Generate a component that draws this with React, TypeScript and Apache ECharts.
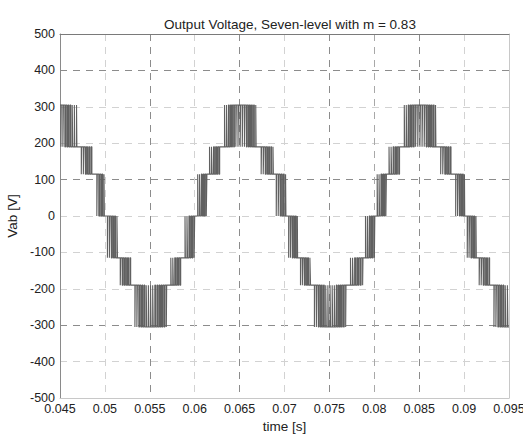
import React, { useEffect, useRef } from "react";
import * as echarts from "echarts";

// Voltage levels of the seven-level waveform (V)
const levels = [-305, -190, -115, 0, 115, 190, 305];

// Each PWM band: lower level index into `levels`, start/end time (s)
const bandLevel = [5, 4, 3, 2, 1, 0, 1, 2, 3, 4, 5, 4, 3, 2, 1, 0, 1, 2, 3, 4, 5, 4, 3, 2, 1, 0];
const bandStart = [
  0.045, 0.04715, 0.0489, 0.0501, 0.05155, 0.0532, 0.0572, 0.0588, 0.0602, 0.0615, 0.0632, 0.0672, 0.0689,
  0.0703, 0.0716, 0.0732, 0.0772, 0.0789, 0.0802, 0.0815, 0.0832, 0.0872, 0.0889, 0.0902, 0.0915, 0.0932,
];
const bandEnd = [
  0.047, 0.04865, 0.05, 0.0515, 0.053, 0.0571, 0.0587, 0.0601, 0.0614, 0.0629, 0.067, 0.0688, 0.0702,
  0.0715, 0.073, 0.077, 0.0788, 0.0801, 0.0814, 0.083, 0.087, 0.0887, 0.0901, 0.0914, 0.093, 0.095,
];
// Switching edges inside each band, in units of 10 µs from the band start
const bandEdges = [
  [10, 14, 32, 38, 54, 62, 76, 88, 98, 112, 120, 136, 142, 160, 164, 184, 188],
  [22, 26, 45, 52, 68, 79, 92, 106, 116, 131, 140],
  [20, 25, 42, 50, 64, 75, 86, 100, 104],
  [18, 22, 40, 47, 62, 72, 85, 98, 108, 124, 130],
  [16, 21, 38, 46, 60, 71, 84, 97, 108, 124, 132],
  [14, 18, 36, 42, 58, 66, 80, 92, 102, 116, 124, 140, 146, 164, 170, 188, 194, 212, 218, 236, 244, 260, 268, 282, 292, 304, 316, 326, 340, 348, 364, 368],
  [14, 18, 36, 42, 58, 66, 80, 92, 102, 116, 124],
  [12, 16, 34, 40, 56, 65, 78, 90, 100, 114, 120],
  [13, 17, 33, 40, 54, 63, 75, 87, 96, 109, 116],
  [15, 19, 37, 44, 60, 69, 83, 95, 106, 120, 128],
  [12, 16, 34, 40, 56, 64, 78, 90, 100, 114, 122, 138, 144, 162, 168, 186, 192, 210, 216, 234, 240, 256, 264, 278, 288, 300, 312, 322, 336, 344, 360, 364],
  [20, 24, 43, 50, 66, 76, 90, 103, 113, 128, 136, 152, 156],
  [18, 22, 40, 47, 62, 72, 85, 98, 107, 122, 126],
  [16, 20, 36, 43, 57, 66, 79, 91, 100, 113, 116],
  [18, 22, 39, 46, 61, 71, 84, 97, 107, 123, 130],
  [13, 17, 35, 41, 57, 65, 79, 91, 101, 115, 123, 139, 145, 163, 169, 187, 193, 211, 217, 235, 241, 257, 265, 279, 289, 301, 313, 323, 337, 345, 361, 365],
  [15, 19, 38, 44, 61, 70, 85, 97, 108, 123, 133, 150, 154],
  [12, 16, 33, 39, 54, 63, 76, 88, 97, 111, 116],
  [12, 16, 33, 39, 54, 63, 75, 87, 96, 109, 115],
  [14, 18, 37, 43, 60, 69, 84, 96, 107, 122, 131],
  [14, 18, 36, 42, 58, 66, 80, 92, 102, 116, 124, 140, 146, 164, 170, 188, 194, 212, 218, 236, 242, 258, 266, 280, 290, 302, 314, 324, 338, 346, 362, 366],
  [19, 23, 42, 49, 65, 75, 88, 101, 111, 126, 134],
  [16, 20, 37, 44, 58, 67, 80, 92, 101, 114, 117],
  [15, 19, 35, 42, 56, 65, 78, 90, 98, 112, 116],
  [18, 22, 40, 47, 63, 73, 87, 100, 110, 126, 134],
  [12, 16, 34, 40, 56, 64, 78, 90, 100, 114, 122, 138, 144, 162, 168],
];

const xTicks = { min: 0.045, max: 0.095, interval: 0.005 };
const yTicks = { min: -500, max: 500, interval: 100 };

const LIGHT = "#d2d2d2";
const MID = "#a8a8a8";
const DARK = "#8c8c8c";
const xGridColors = ["rgba(0,0,0,0)", LIGHT, DARK, LIGHT, DARK, LIGHT, DARK, MID, DARK, LIGHT, "rgba(0,0,0,0)"];
const yGridColors = ["rgba(0,0,0,0)", LIGHT, DARK, LIGHT, LIGHT, LIGHT, DARK, LIGHT, LIGHT, DARK, "rgba(0,0,0,0)"];

function buildWaveform(): [number, number][] {
  const pts: [number, number][] = [];
  let level = levels[bandLevel[0] + 1];
  for (let b = 0; b < bandLevel.length; b++) {
    const lo = levels[bandLevel[b]];
    const hi = levels[bandLevel[b] + 1];
    const t0 = bandStart[b];
    pts.push([t0, level]);
    if (level !== lo && level !== hi) {
      level = Math.abs(level - lo) < Math.abs(level - hi) ? lo : hi;
      pts.push([t0, level]);
    }
    for (const e of bandEdges[b]) {
      const t = t0 + e * 1e-5;
      pts.push([t, level]);
      level = level === hi ? lo : hi;
      pts.push([t, level]);
    }
    pts.push([bandEnd[b], level]);
  }
  return pts;
}

const FONT = "'Liberation Sans', Arial, Helvetica, sans-serif";

export default function App() {
  const ref = useRef<HTMLDivElement>(null);
  useEffect(() => {
    if (!ref.current) return;
    const chart = echarts.init(ref.current, undefined, { renderer: "svg" });
    chart.setOption({
      animation: false,
      backgroundColor: "#ffffff",
      textStyle: { fontFamily: FONT },
      title: {
        text: "Output Voltage, Seven-level with m = 0.83",
        left: 285,
        top: 12,
        textAlign: "center",
        textStyle: { fontFamily: FONT, fontSize: 13.5, fontWeight: "normal", color: "#222" },
      },
      grid: { left: 60, right: 14, top: 34, bottom: 37, containLabel: false, outerBoundsMode: "none" },
      xAxis: [
        {
          type: "value",
          min: xTicks.min,
          max: xTicks.max,
          interval: xTicks.interval,
          name: "time [s]",
          nameLocation: "middle",
          nameGap: 21,
          nameTextStyle: { fontFamily: FONT, fontSize: 13.5, color: "#222" },
          axisLine: { show: true, onZero: false, lineStyle: { color: "#c8c8c8", width: 1 } },
          axisTick: { show: false },
          axisLabel: {
            fontFamily: FONT,
            fontSize: 12.5,
            color: "#222",
            margin: 4,
            hideOverlap: false,
            formatter: (v: number) => String(parseFloat(v.toFixed(4))),
          },
          splitLine: { show: true, lineStyle: { color: xGridColors, type: [7, 6], width: 1 } },
        },
        {
          type: "value",
          position: "top",
          min: xTicks.min,
          max: xTicks.max,
          interval: xTicks.interval,
          axisLine: { show: true, onZero: false, lineStyle: { color: "#7a7a7a", width: 1 } },
          axisTick: { show: false },
          axisLabel: { show: false },
          splitLine: { show: false },
        },
      ],
      yAxis: [
        {
          type: "value",
          min: yTicks.min,
          max: yTicks.max,
          interval: yTicks.interval,
          name: "Vab [V]",
          nameLocation: "middle",
          nameGap: 34,
          nameTextStyle: { fontFamily: FONT, fontSize: 13.5, color: "#222" },
          axisLine: { show: true, onZero: false, lineStyle: { color: "#8a8a8a", width: 1 } },
          axisTick: { show: false },
          axisLabel: { fontFamily: FONT, fontSize: 12.5, color: "#222", margin: 5 },
          splitLine: { show: true, lineStyle: { color: yGridColors, type: [7, 6], width: 1 } },
        },
        {
          type: "value",
          position: "right",
          min: yTicks.min,
          max: yTicks.max,
          interval: yTicks.interval,
          axisLine: { show: true, onZero: false, lineStyle: { color: "#c8c8c8", width: 1 } },
          axisTick: { show: false },
          axisLabel: { show: false },
          splitLine: { show: false },
        },
      ],
      series: [
        {
          type: "line",
          xAxisIndex: 0,
          yAxisIndex: 0,
          data: buildWaveform(),
          symbol: "none",
          showSymbol: false,
          lineStyle: { color: "#606060", width: 1.1 },
          silent: true,
        },
      ],
    });
    return () => chart.dispose();
  }, []);
  return (
    <div
      ref={ref}
      style={{ position: "fixed", left: 0, top: 0, width: 523, height: 435, background: "#fff" }}
    />
  );
}
